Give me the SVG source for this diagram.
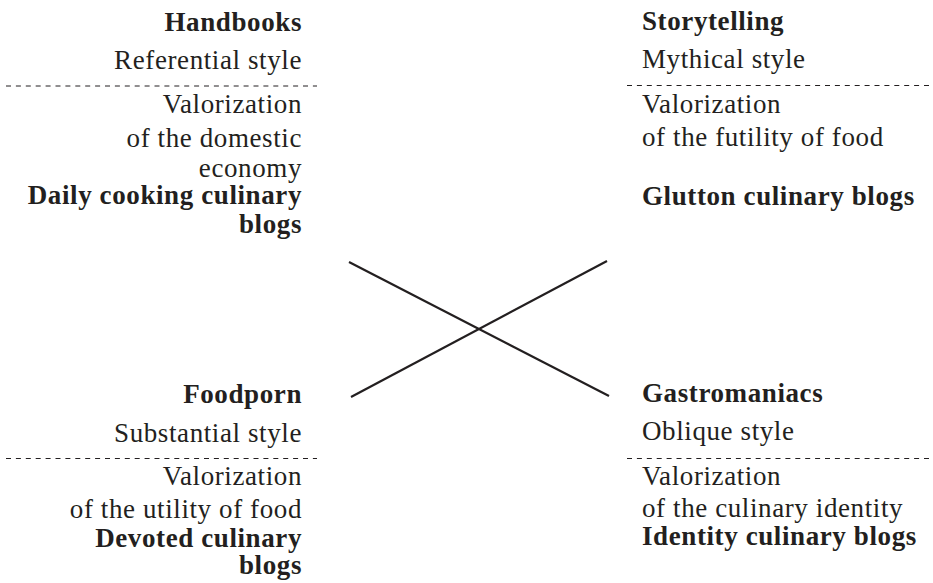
<svg xmlns="http://www.w3.org/2000/svg" width="933" height="583" viewBox="0 0 933 583">
  <style>
    text { font-family: "Liberation Serif", "Times New Roman", serif; font-size: 27px; fill: #231f20; letter-spacing: 0.6px; }
    .b { font-weight: bold; }
    .l { text-anchor: end; }
    .sep { stroke: #231f20; stroke-width: 1; stroke-dasharray: 5 4.9; fill: none; }
    .cross { stroke: #231f20; stroke-width: 2.2; fill: none; }
  </style>
  <rect width="933" height="583" fill="#ffffff"/>

  <!-- connectors: the crossing lines -->
  <g id="connectors">
    <line class="cross" x1="349" y1="262" x2="609" y2="396"/>
    <line class="cross" x1="351" y1="397" x2="607" y2="261"/>
  </g>

  <!-- top-left quadrant -->
  <g id="handbooks">
    <text class="b l" x="302" y="31">Handbooks</text>
    <text class="l" x="302" y="69">Referential style</text>
    <line class="sep" x1="6" y1="86" x2="317" y2="86"/>
    <text class="l" x="302" y="113">Valorization</text>
    <text class="l" x="302" y="147">of the domestic</text>
    <text class="l" x="302" y="177">economy</text>
    <text class="b l" x="302" y="204">Daily cooking culinary</text>
    <text class="b l" x="302" y="233">blogs</text>
  </g>

  <!-- top-right quadrant -->
  <g id="storytelling">
    <text class="b" x="642" y="30">Storytelling</text>
    <text x="642" y="68">Mythical style</text>
    <line class="sep" x1="627" y1="85.5" x2="933" y2="85.5"/>
    <text x="642" y="113">Valorization</text>
    <text x="642" y="146">of the futility of food</text>
    <text class="b" x="642" y="205">Glutton culinary blogs</text>
  </g>

  <!-- bottom-left quadrant -->
  <g id="foodporn">
    <text class="b l" x="302" y="403">Foodporn</text>
    <text class="l" x="302" y="442">Substantial style</text>
    <line class="sep" x1="6" y1="458.5" x2="317" y2="458.5"/>
    <text class="l" x="302" y="485">Valorization</text>
    <text class="l" x="302" y="518">of the utility of food</text>
    <text class="b l" x="302" y="547">Devoted culinary</text>
    <text class="b l" x="302" y="574">blogs</text>
  </g>

  <!-- bottom-right quadrant -->
  <g id="gastromaniacs">
    <text class="b" x="642" y="402">Gastromaniacs</text>
    <text x="642" y="440">Oblique style</text>
    <line class="sep" x1="627" y1="458.5" x2="933" y2="458.5"/>
    <text x="642" y="485">Valorization</text>
    <text x="642" y="517">of the culinary identity</text>
    <text class="b" x="642" y="545">Identity culinary blogs</text>
  </g>
</svg>
